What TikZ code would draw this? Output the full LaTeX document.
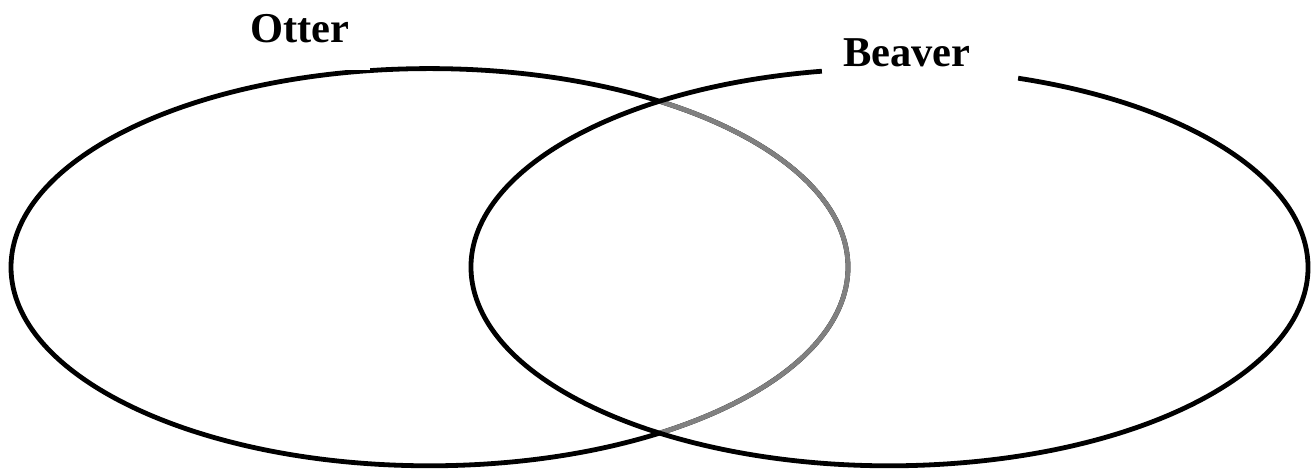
\documentclass[tikz,border=0pt]{standalone}
\usepackage{fontspec}
\setmainfont{Liberation Serif}
\definecolor{arcGrey}{HTML}{808080}

\begin{document}
\begin{tikzpicture}[x=1pt, y=1pt,
   ring/.style={draw=black, line width=4.8pt},
   inner/.style={draw=arcGrey, line width=4.8pt},
   setname/.style={anchor=base west, inner sep=0pt,
                   font=\fontsize{42.5}{48}\selectfont\bfseries}]
\useasboundingbox (0,0) rectangle (1316,470);

\coordinate (otterC) at (429.5,202.8);
\coordinate (beaverC) at (889.5,202.8);

% left set, grey where it runs inside the right one
\draw[ring] (otterC) ellipse [x radius=418.5, y radius=198.6];
\begin{scope}
  \clip (beaverC) ellipse [x radius=418.5, y radius=198.6];
  \draw[inner] (otterC) ellipse [x radius=418.5, y radius=198.6];
\end{scope}
\fill[white] (240,400) rectangle (370,470);

% right set, open under its name
\draw[ring] ([shift={(99.3:418.5 and 198.6)}]beaverC)
  arc[start angle=99.3, end angle=432.1, x radius=418.5, y radius=198.6];

\node[setname] (otter) at (250,427) {Otter};
\node[setname] (beaver) at (843,403) {Beaver};
\end{tikzpicture}
\end{document}
